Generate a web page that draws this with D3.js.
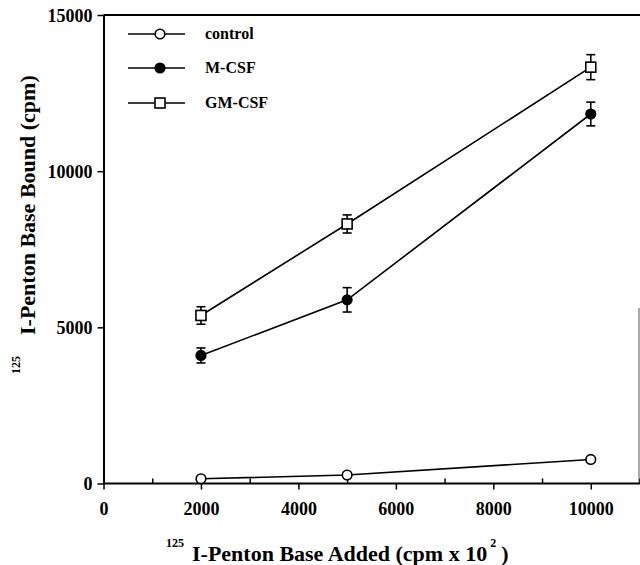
<!DOCTYPE html>
<html>
<head>
<meta charset="utf-8">
<script src="https://cdn.jsdelivr.net/npm/d3@7"></script>
<style>
  body { margin: 0; background: #fff; }
  svg { display: block; font-family: "Liberation Serif", "DejaVu Serif", serif; font-weight: bold; }
</style>
</head>
<body>
<svg id="chart" width="640" height="565"></svg>
<script>
// values
const doses = [2000, 5000, 10000];
const control = [150, 270, 770];
const controlErr = [0, 0, 0];
const mcsf = [4100, 5880, 11830];
const mcsfErr = [240, 390, 380];
const gmcsf = [5380, 8310, 13330];
const gmcsfErr = [280, 290, 400];

const xTicks = [0, 2000, 4000, 6000, 8000, 10000];
const xMinor = [1000, 3000, 5000, 7000, 9000, 11000];
const yTicks = [0, 5000, 10000, 15000];

const series = [
  {name: 'control', values: control, err: controlErr, shape: 'circle', fill: '#fff'},
  {name: 'M-CSF', values: mcsf, err: mcsfErr, shape: 'circle', fill: '#000'},
  {name: 'GM-CSF', values: gmcsf, err: gmcsfErr, shape: 'square', fill: '#fff'}
];

const svg = d3.select('#chart');

const x = d3.scaleLinear().domain([0, 11000]).range([103.5, 639.5]);
const y = d3.scaleLinear().domain([0, 15000]).range([483.5, 15]);
const fmt = d3.format('d');

// frame: top line and partial right edge
svg.append('line')
  .attr('x1', x(0)).attr('x2', 640)
  .attr('y1', y(15000)).attr('y2', y(15000))
  .attr('stroke', '#000').attr('stroke-width', 2);
svg.append('line')
  .attr('x1', 639).attr('x2', 639)
  .attr('y1', 308).attr('y2', y(0))
  .attr('stroke', '#555').attr('stroke-width', 1);

// x axis
const xAxis = svg.append('g')
  .attr('transform', 'translate(0,' + y(0) + ')')
  .call(d3.axisBottom(x).tickValues(xTicks).tickSize(6).tickSizeOuter(0).tickFormat(fmt))
  .attr('font-family', null).attr('font-size', null);
xAxis.select('.domain').attr('d', 'M' + x(0) + ',0H640').attr('stroke-width', 2);
xAxis.selectAll('.tick line').attr('stroke-width', 1.5);
xAxis.selectAll('text')
  .attr('y', 31).attr('dy', 0)
  .style('font-size', '18px')
  .attr('fill', '#000');

svg.append('g')
  .attr('transform', 'translate(0,' + y(0) + ')')
  .call(d3.axisBottom(x).tickValues(xMinor).tickSize(-5).tickFormat(''))
  .call(g => g.select('.domain').remove())
  .selectAll('.tick line').attr('stroke-width', 1.5);

// y axis
const yAxis = svg.append('g')
  .attr('transform', 'translate(' + x(0) + ',0)')
  .call(d3.axisLeft(y).tickValues(yTicks).tickSize(6).tickSizeOuter(0).tickFormat(fmt))
  .attr('font-family', null).attr('font-size', null);
yAxis.select('.domain').attr('stroke-width', 2);
yAxis.selectAll('.tick line').attr('stroke-width', 1.5);
yAxis.selectAll('text')
  .attr('x', -11).attr('dy', '0.36em')
  .style('font-size', '18px')
  .attr('fill', '#000');

// lines
const line = d3.line()
  .x((d, i) => x(doses[i]))
  .y(d => y(d));

series.forEach(s => {
  svg.append('path')
    .datum(s.values)
    .attr('d', line)
    .attr('fill', 'none')
    .attr('stroke', '#000')
    .attr('stroke-width', 1.6);
});

// error bars
series.forEach(s => {
  const g = svg.append('g').attr('stroke', '#000').attr('stroke-width', 1.6);
  s.values.forEach((v, i) => {
    if (!s.err[i]) return;
    const cx = x(doses[i]);
    const y1 = y(v + s.err[i]), y2 = y(v - s.err[i]);
    g.append('line').attr('x1', cx).attr('x2', cx).attr('y1', y1).attr('y2', y2);
    g.append('line').attr('x1', cx - 4.5).attr('x2', cx + 4.5).attr('y1', y1).attr('y2', y1);
    g.append('line').attr('x1', cx - 4.5).attr('x2', cx + 4.5).attr('y1', y2).attr('y2', y2);
  });
});

function drawMarker(g, s, cx, cy) {
  if (s.shape === 'circle') {
    g.append('circle')
      .attr('cx', cx).attr('cy', cy).attr('r', 4.8)
      .attr('fill', s.fill).attr('stroke', '#000').attr('stroke-width', 1.6);
  } else {
    g.append('rect')
      .attr('x', cx - 5).attr('y', cy - 5)
      .attr('width', 10).attr('height', 10)
      .attr('fill', s.fill).attr('stroke', '#000').attr('stroke-width', 1.6);
  }
}

// markers
series.forEach(s => {
  const g = svg.append('g');
  s.values.forEach((v, i) => drawMarker(g, s, x(doses[i]), y(v)));
});

// legend
const legendY = [34, 68, 103];
series.forEach((s, i) => {
  const g = svg.append('g');
  g.append('line')
    .attr('x1', 128).attr('x2', 185)
    .attr('y1', legendY[i]).attr('y2', legendY[i])
    .attr('stroke', '#000').attr('stroke-width', 1.6);
  drawMarker(g, s, 160, legendY[i]);
  g.append('text')
    .attr('x', 205).attr('y', legendY[i] + 5)
    .style('font-size', '16px')
    .text(s.name);
});

// x axis title
const xt = svg.append('text')
  .attr('x', 166).attr('y', 561)
  .style('font-size', '22px');
xt.append('tspan').attr('dy', -14).style('font-size', '12px').text('125');
xt.append('tspan').attr('dx', 8).attr('dy', 14).text('I-Penton Base Added (cpm x 10');
xt.append('tspan').attr('dx', 3).attr('dy', -14).style('font-size', '12px').text('2');
xt.append('tspan').attr('dx', 5).attr('dy', 14).text(')');

// y axis title
const yt = svg.append('text')
  .attr('transform', 'translate(35,374) rotate(-90)')
  .attr('x', 0).attr('y', 0)
  .style('font-size', '22px');
yt.append('tspan').attr('dy', -15).style('font-size', '12px').text('125');
yt.append('tspan').attr('dx', 21).attr('dy', 15).text('I-Penton Base Bound (cpm)');
</script>
</body>
</html>
